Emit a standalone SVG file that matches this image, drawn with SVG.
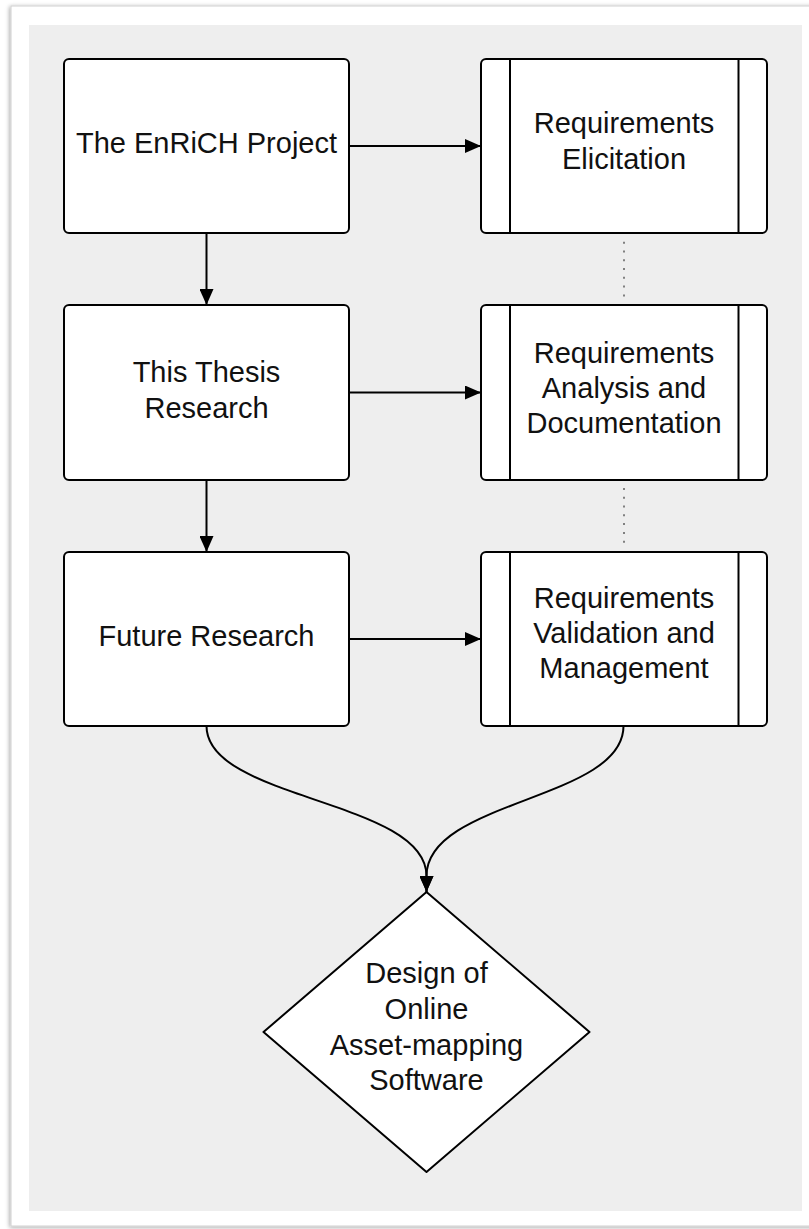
<svg xmlns="http://www.w3.org/2000/svg" width="809" height="1229" viewBox="0 0 809 1229">
<defs>
<style>
.box{fill:#fff;stroke:#000;stroke-width:2}
.sub{fill:none;stroke:#000;stroke-width:2}
.lbl{font-family:"Liberation Sans",Arial,sans-serif;font-size:29px;fill:#111;text-anchor:middle}
.con{fill:none;stroke:#000;stroke-width:2}
.dot{fill:none;stroke:#808080;stroke-width:2;stroke-dasharray:2 6.78}
</style>
<marker id="ah" viewBox="0 0 16 14" refX="16" refY="7" markerWidth="16" markerHeight="14" markerUnits="userSpaceOnUse" orient="auto">
<path d="M0,0 L16,7 L0,14 Z" fill="#000"/>
</marker>
<filter id="sh" x="-5%" y="-5%" width="110%" height="110%">
<feDropShadow dx="-1" dy="1" stdDeviation="2" flood-color="#000" flood-opacity="0.35"/>
</filter>
</defs>
<rect x="11" y="6" width="810" height="1220" fill="#fff" stroke="#d0d0d0" stroke-width="1" filter="url(#sh)"/>
<rect x="29" y="25" width="773" height="1186" fill="#eeeeee"/>

<g id="connectors">
<line class="con" x1="206.5" y1="233" x2="206.5" y2="305" marker-end="url(#ah)"/>
<line class="con" x1="206.5" y1="480" x2="206.5" y2="552" marker-end="url(#ah)"/>
<line class="con" x1="349" y1="146" x2="481" y2="146" marker-end="url(#ah)"/>
<line class="con" x1="349" y1="392.5" x2="481" y2="392.5" marker-end="url(#ah)"/>
<line class="con" x1="349" y1="639" x2="481" y2="639" marker-end="url(#ah)"/>
<line class="dot" x1="624" y1="241.7" x2="624" y2="297"/>
<line class="dot" x1="624" y1="488" x2="624" y2="544"/>
<path class="con" d="M206.5,726 C206.5,800 426.5,800 426.5,876 L426.5,892" marker-end="url(#ah)"/>
<path class="con" d="M623.5,726 C623.5,800 426.5,800 426.5,876 L426.5,892" marker-end="url(#ah)"/>
</g>

<g id="enrich">
<rect class="box" x="64" y="59" width="285" height="174" rx="5"/>
<text class="lbl" x="206.5" y="153">The EnRiCH Project</text>
</g>
<g id="thesis">
<rect class="box" x="64" y="305" width="285" height="175" rx="5"/>
<text class="lbl" x="206.5" y="382">This Thesis</text>
<text class="lbl" x="206.5" y="418">Research</text>
</g>
<g id="future">
<rect class="box" x="64" y="552" width="285" height="174" rx="5"/>
<text class="lbl" x="206.5" y="646">Future Research</text>
</g>

<g id="elicitation">
<rect class="box" x="481" y="59" width="286" height="174" rx="5"/>
<line class="sub" x1="510" y1="59" x2="510" y2="233"/>
<line class="sub" x1="738.5" y1="59" x2="738.5" y2="233"/>
<text class="lbl" x="624" y="133">Requirements</text>
<text class="lbl" x="624" y="169">Elicitation</text>
</g>
<g id="analysis">
<rect class="box" x="481" y="305" width="286" height="175" rx="5"/>
<line class="sub" x1="510" y1="305" x2="510" y2="480"/>
<line class="sub" x1="738.5" y1="305" x2="738.5" y2="480"/>
<text class="lbl" x="624" y="363">Requirements</text>
<text class="lbl" x="624" y="398">Analysis and</text>
<text class="lbl" x="624" y="433">Documentation</text>
</g>
<g id="validation">
<rect class="box" x="481" y="552" width="286" height="174" rx="5"/>
<line class="sub" x1="510" y1="552" x2="510" y2="726"/>
<line class="sub" x1="738.5" y1="552" x2="738.5" y2="726"/>
<text class="lbl" x="624" y="608">Requirements</text>
<text class="lbl" x="624" y="643">Validation and</text>
<text class="lbl" x="624" y="678">Management</text>
</g>

<g id="design">
<path class="box" stroke-linejoin="round" d="M426.5,892 L589.5,1032 L426.5,1172 L263.5,1032 Z"/>
<text class="lbl" x="426.5" y="983">Design of</text>
<text class="lbl" x="426.5" y="1019">Online</text>
<text class="lbl" x="426.5" y="1055">Asset-mapping</text>
<text class="lbl" x="426.5" y="1090">Software</text>
</g>
</svg>
